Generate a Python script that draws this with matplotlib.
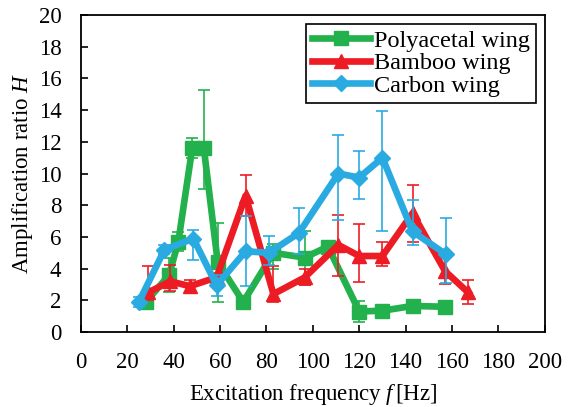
import matplotlib
matplotlib.use('Agg')
import matplotlib.pyplot as plt
import numpy as np

plt.rcParams['font.family'] = 'Liberation Serif'
plt.rcParams['mathtext.fontset'] = 'custom'
plt.rcParams['mathtext.rm'] = 'Liberation Serif'
plt.rcParams['mathtext.it'] = 'Liberation Serif:italic'

# Polyacetal wing
f_poly = [28, 38, 42, 48, 53, 59, 70, 83, 96.5, 106.5, 120, 130, 143, 157]
H_poly = [1.9, 3.6, 5.7, 11.6, 11.6, 4.4, 1.9, 5.0, 4.7, 5.4, 1.3, 1.35, 1.65, 1.6]
poly_lo = [0.3, 1.05, 0.6, 0.6, 2.6, 2.5, 0.3, 1.05, 1.7, 0.3, 0.65, 0.2, 0.2, 0.2]
poly_up = [0.3, 1.05, 0.6, 0.65, 3.7, 2.5, 0.3, 0.55, 1.7, 0.3, 0.65, 0.2, 0.2, 0.2]

# Bamboo wing
f_bam = [29, 38.5, 47, 58.5, 71, 83, 96.5, 111, 120, 130, 143, 157, 167]
H_bam = [2.5, 3.2, 2.9, 3.45, 8.6, 2.4, 3.45, 5.5, 4.8, 4.8, 7.5, 3.85, 2.5]
bam_lo = [0.5, 0.6, 0.45, 0.3, 1.3, 0.5, 0.5, 1.95, 1.65, 0.6, 1.8, 0.8, 0.75]
bam_up = [1.7, 1.05, 0.4, 0.3, 1.3, 1.8, 0.5, 1.9, 2.0, 0.9, 1.8, 0.8, 0.8]

# Carbon wing
f_car = [25, 36, 48.5, 58.5, 71, 81, 94, 111, 120, 130, 143, 157.5]
H_car = [1.9, 5.2, 5.9, 2.95, 5.1, 5.0, 6.25, 10.0, 9.75, 11.0, 6.35, 4.9]
car_lo = [0.3, 0.3, 1.35, 0.65, 2.2, 0.75, 1.3, 2.9, 1.35, 4.6, 0.85, 1.8]
car_up = [0.3, 0.3, 0.55, 0.65, 2.25, 1.05, 1.55, 2.45, 1.65, 2.95, 2.0, 2.3]

green = '#22b14c'
red = '#ed1c24'
blue = '#29abe2'

fig = plt.figure(figsize=(5.74, 4.07), dpi=100)
ax1 = fig.add_axes([0.141, 0.184, 0.808, 0.779])

series = [
    (f_poly, H_poly, poly_lo, poly_up, green, 's', 10, 'Polyacetal wing'),
    (f_bam, H_bam, bam_lo, bam_up, red, '^', 10, 'Bamboo wing'),
    (f_car, H_car, car_lo, car_up, blue, 'D', 8, 'Carbon wing'),
]
handles = []
for i, (x, y, lo, up, c, m, ms, lab) in enumerate(series):
    ax1.errorbar(x, y, yerr=[lo, up], fmt='none', ecolor=c, elinewidth=1.2,
                 capsize=4.5, capthick=1.2, zorder=2 + i * 2)
    line, = ax1.plot(x, y, color=c, linewidth=4.8, marker=m, markersize=ms,
                     markeredgecolor=c, label=lab, zorder=3 + i * 2)
    handles.append(line)

ax1.set_xlim([0, 200])
ax1.set_ylim([0, 20])
ax1.set_xticks(range(0, 201, 20))
ax1.set_yticks(range(0, 21, 2))
ax1.tick_params(direction='in', length=5, width=1.2, labelsize=16.5, pad=14)
for s in ax1.spines.values():
    s.set_linewidth(1.3)
ax1.set_xlabel('Excitation frequency $f\\,$[Hz]', fontsize=16.5, labelpad=7)
ax1.set_ylabel('Amplification ratio $H$', fontsize=16.5, labelpad=3)

leg = ax1.legend(handles=handles, loc='upper right', fontsize=17.5, fancybox=False,
                 edgecolor='black', framealpha=1, handlelength=2.4, borderpad=0.25,
                 labelspacing=0.02, handletextpad=0.15, borderaxespad=0.35)
leg.get_frame().set_linewidth(1.2)

fig.savefig('out.png', dpi=100)
